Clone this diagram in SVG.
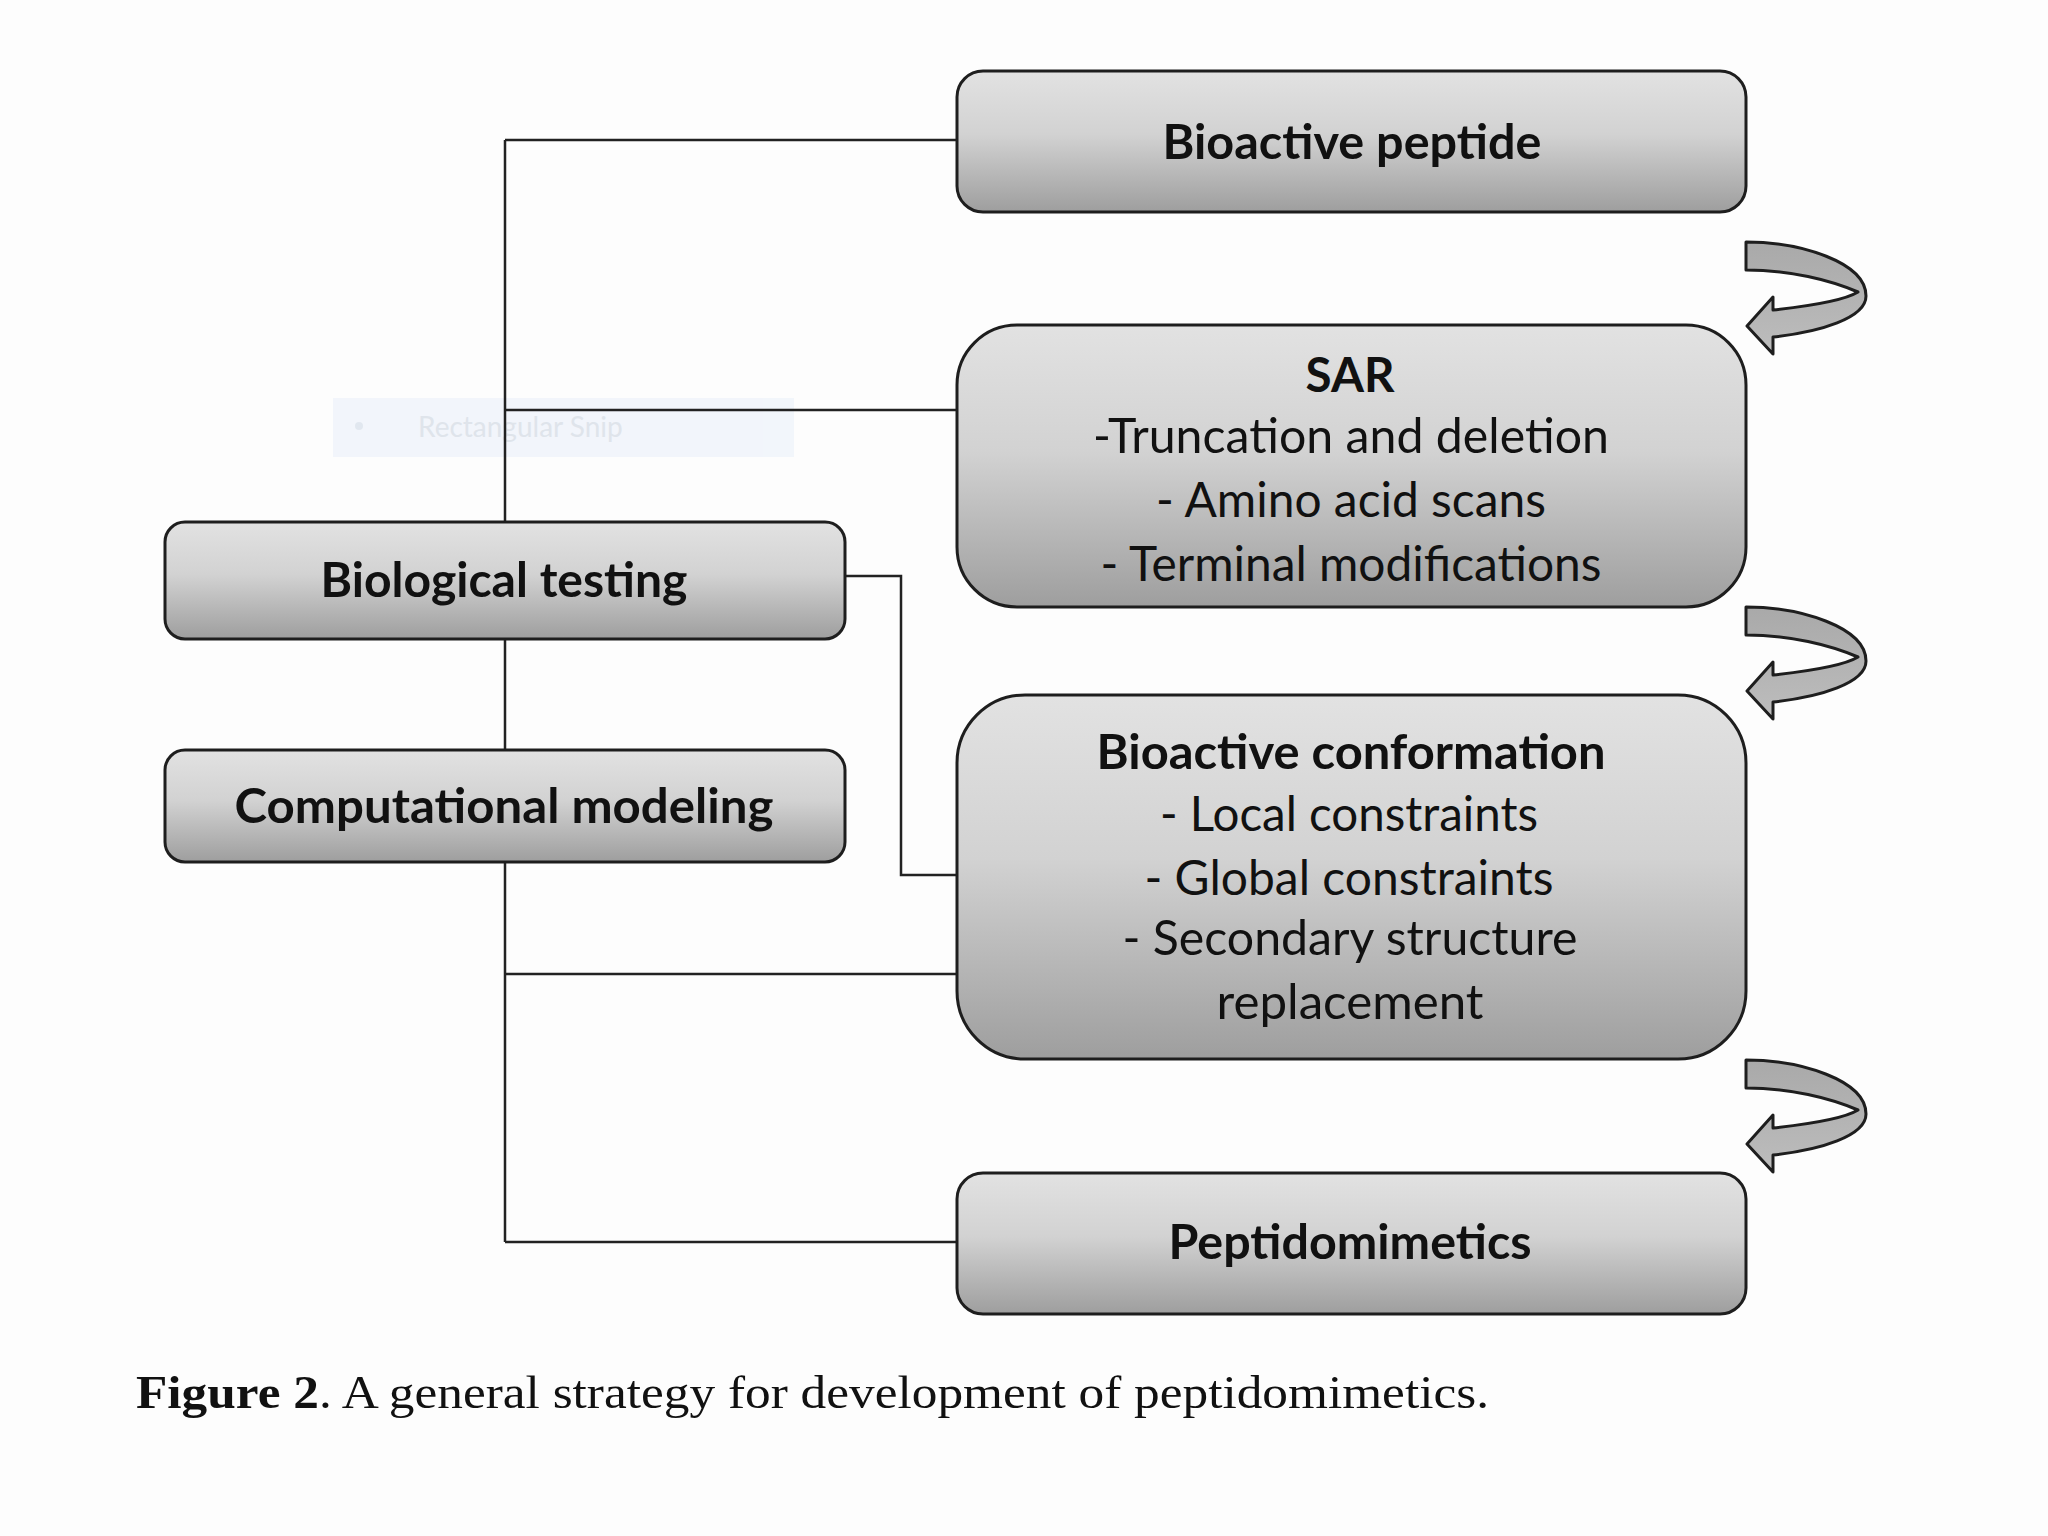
<svg xmlns="http://www.w3.org/2000/svg" width="2048" height="1536" viewBox="0 0 2048 1536">
<defs>
<linearGradient id="g" x1="0" y1="0" x2="0" y2="1">
<stop offset="0" stop-color="#e2e2e2"/>
<stop offset="0.45" stop-color="#d2d2d2"/>
<stop offset="1" stop-color="#9e9e9e"/>
</linearGradient>
<linearGradient id="ga" x1="0" y1="0" x2="0" y2="1">
<stop offset="0" stop-color="#a9a9a9"/>
<stop offset="1" stop-color="#bdbdbd"/>
</linearGradient>
<path id="carrow" d="M 1746 242 C 1800 242 1866 262 1866 296 C 1866 318 1820 332 1773 337 L 1773 354 L 1747 326 L 1773 297 L 1773 310 C 1810 306 1845 300 1858 292 C 1830 280 1790 270 1746 270 Z"/>
</defs>
<style>
.box{fill:url(#g);stroke:#1e1e1e;stroke-width:3}
.con{fill:none;stroke:#222;stroke-width:2.5}
.t{font-family:Lato,"Liberation Sans",sans-serif;font-size:48px;fill:#111;text-anchor:middle}
.b{font-weight:bold}
.ar{fill:url(#ga);stroke:#1e1e1e;stroke-width:3;stroke-linejoin:round}
.cap{font-family:"Liberation Serif",serif;font-size:46px;fill:#111}
</style>
<rect width="2048" height="1536" fill="#fdfdfd"/>

<g id="snip-ghost" opacity="0.9">
<rect x="333" y="398" width="461" height="59" fill="#f1f5fb"/>
<circle cx="359" cy="426" r="4" fill="#dfe5ee"/>
<text x="418" y="437" font-family="Lato,'Liberation Sans',sans-serif" font-size="28" fill="#dce2ea">Rectangular Snip</text>
</g>

<g id="connectors">
<line class="con" x1="505" y1="140" x2="505" y2="1242"/>
<line class="con" x1="505" y1="140" x2="957" y2="140"/>
<line class="con" x1="505" y1="410" x2="957" y2="410"/>
<line class="con" x1="505" y1="974" x2="957" y2="974"/>
<line class="con" x1="505" y1="1242" x2="957" y2="1242"/>
<polyline class="con" points="845,576 901,576 901,875 957,875"/>
</g>

<g id="node-bioactive-peptide">
<rect class="box" x="957" y="71" width="789" height="141" rx="26"/>
<text class="t b" x="1352" y="159" textLength="379" lengthAdjust="spacingAndGlyphs">Bioactive peptide</text>
</g>

<g id="node-sar">
<rect class="box" x="957" y="325" width="789" height="282" rx="60"/>
<text class="t b" x="1350" y="392" textLength="89" lengthAdjust="spacingAndGlyphs">SAR</text>
<text class="t" x="1351" y="453" textLength="516" lengthAdjust="spacingAndGlyphs">-Truncation and deletion</text>
<text class="t" x="1351" y="517" textLength="390" lengthAdjust="spacingAndGlyphs">- Amino acid scans</text>
<text class="t" x="1351" y="581" textLength="501" lengthAdjust="spacingAndGlyphs">- Terminal modifications</text>
</g>

<g id="node-bioactive-conformation">
<rect class="box" x="957" y="695" width="789" height="364" rx="68"/>
<text class="t b" x="1351" y="769" textLength="509" lengthAdjust="spacingAndGlyphs">Bioactive conformation</text>
<text class="t" x="1349" y="831" textLength="378" lengthAdjust="spacingAndGlyphs">- Local constraints</text>
<text class="t" x="1349" y="895" textLength="409" lengthAdjust="spacingAndGlyphs">- Global constraints</text>
<text class="t" x="1350" y="955" textLength="455" lengthAdjust="spacingAndGlyphs">- Secondary  structure</text>
<text class="t" x="1350" y="1019" textLength="267" lengthAdjust="spacingAndGlyphs">replacement</text>
</g>

<g id="node-peptidomimetics">
<rect class="box" x="957" y="1173" width="789" height="141" rx="26"/>
<text class="t b" x="1350" y="1259" textLength="363" lengthAdjust="spacingAndGlyphs">Peptidomimetics</text>
</g>

<g id="node-biological-testing">
<rect class="box" x="165" y="522" width="680" height="117" rx="20"/>
<text class="t b" x="504" y="597" textLength="367" lengthAdjust="spacingAndGlyphs">Biological testing</text>
</g>

<g id="node-computational-modeling">
<rect class="box" x="165" y="750" width="680" height="112" rx="20"/>
<text class="t b" x="504" y="823" textLength="539" lengthAdjust="spacingAndGlyphs">Computational modeling</text>
</g>

<g id="cycle-arrows">
<use href="#carrow" class="ar"/>
<use href="#carrow" class="ar" transform="translate(0,365)"/>
<use href="#carrow" class="ar" transform="translate(0,818)"/>
</g>

<text class="cap" x="136" y="1408" textLength="1353" lengthAdjust="spacingAndGlyphs"><tspan font-weight="bold">Figure 2</tspan>. A general strategy for development of peptidomimetics.</text>
</svg>
